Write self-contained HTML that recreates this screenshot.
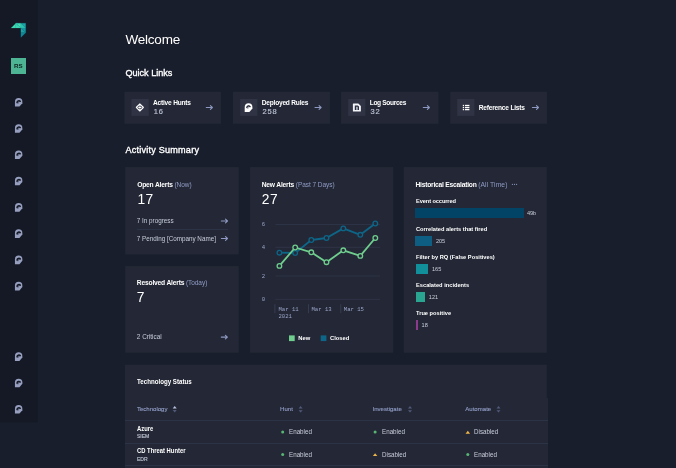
<!DOCTYPE html>
<html>
<head>
<meta charset="utf-8">
<title>Welcome</title>
<style>
*{box-sizing:border-box;margin:0;padding:0}
html,body{width:676px;height:468px;overflow:hidden;background:#191e2c}
body{font-family:"Liberation Sans",sans-serif;color:#fff;position:relative;-webkit-font-smoothing:antialiased}
#root{position:absolute;left:0;top:0;width:676px;height:468px;will-change:transform}
.a{position:absolute;white-space:nowrap;line-height:1}
.side{left:0;top:0;width:37.5px;height:422.5px;background:#151926}
.h1{font-size:13.5px;left:125.4px;top:32.5px;color:#fff;letter-spacing:-0.2px}
.h2{font-size:9.1px;color:#fff;left:125.4px;-webkit-text-stroke:0.35px #fff}
.b{font-weight:bold}
.ct{font-size:6.7px;color:#fff;letter-spacing:-0.19px}
.ct .mut{font-weight:normal;letter-spacing:-0.05px;font-size:6.5px}
.mut{color:#8f9bc4}
.sec{color:#c9cedb}
.qt{font-size:6.6px;font-weight:bold;color:#fff;letter-spacing:-0.21px}
.qn{font-size:7.5px;color:#b9bed0;letter-spacing:0.85px;-webkit-text-stroke:0.2px #b9bed0}
.big{font-size:13.8px;color:#fff;letter-spacing:0.5px}
.line{background:#2d3347;height:1px}
.mono{font-family:"Liberation Mono",monospace;font-size:5.6px;color:#9aa4c8}
.e{left:11.9px;font-size:6.1px;color:#fff;transform:scaleX(.934);transform-origin:0 50%}
.ev{font-size:5.6px;color:#c9cedb}
.th{top:406.3px;font-size:6.05px;color:#919dc6;-webkit-text-stroke:0.12px #919dc6}
.tn{left:136.9px;font-size:6.5px;color:#fff;transform:scaleX(.9);transform-origin:0 50%}
.ts{left:136.9px;font-size:5.1px;color:#bdc2d2;-webkit-text-stroke:0.15px #bdc2d2}
.tv{font-size:6.9px;color:#c9cedb;transform:scaleX(.905);transform-origin:0 50%}
svg{position:absolute;overflow:visible}
</style>
</head>
<body>
<div id="root">
<!-- sidebar -->
<svg style="left:0;top:0" width="40" height="430" viewBox="0 0 40 430"><rect x="0" y="0" width="37.6" height="422.4" fill="#151926"/></svg>
<svg style="left:0;top:0" width="38" height="60" viewBox="0 0 38 60">
  <polygon points="11.1,28.1 15.9,23.2 15.9,28.1" fill="#3ddab3" stroke="#3ddab3" stroke-width="0.15"/>
  <polygon points="15.9,23.2 20.9,28.1 15.9,28.1" fill="#3bd6b3" stroke="#3bd6b3" stroke-width="0.15"/>
  <polygon points="15.9,23.2 20.9,23.2 20.9,28.1" fill="#43dcb6" stroke="#43dcb6" stroke-width="0.15"/>
  <polygon points="15.9,23.2 18.4,23.2 17.2,25.7" fill="#27bcae" stroke="#27bcae" stroke-width="0.15"/>
  <polygon points="20.9,23.2 25.7,23.2 25.7,28.1" fill="#1aa3a9" stroke="#1aa3a9" stroke-width="0.15"/>
  <polygon points="20.9,23.2 25.7,28.1 20.9,28.1" fill="#29c0b0" stroke="#29c0b0" stroke-width="0.15"/>
  <polygon points="20.9,28.1 25.7,28.1 25.7,32.8" fill="#1496a3" stroke="#1496a3" stroke-width="0.15"/>
  <polygon points="20.9,28.1 25.7,32.8 20.9,32.8" fill="#1ba4a8" stroke="#1ba4a8" stroke-width="0.15"/>
  <polygon points="20.9,32.8 25.7,32.8 20.9,37.5" fill="#0f8799" stroke="#0f8799" stroke-width="0.15"/>
</svg>
<div class="a" style="left:10.7px;top:57.7px;width:15.2px;height:15.9px;background:#4db594"></div>
<div class="a b" style="left:10.7px;top:62.9px;width:15.2px;text-align:center;font-size:6.2px;color:#10241f;letter-spacing:0px">RS</div>

<svg style="left:0;top:0" width="676" height="468" viewBox="0 0 676 468">
<g fill="#242836">
<rect x="124.4" y="91.8" width="96.50" height="32.00"/>
<rect x="232.9" y="91.8" width="97.00" height="32.00"/>
<rect x="341.1" y="91.8" width="97.30" height="32.00"/>
<rect x="450.2" y="91.8" width="96.70" height="32.00"/>
<rect x="125.3" y="167.1" width="113.40" height="87.30"/>
<rect x="125.3" y="266.1" width="113.40" height="86.60"/>
<rect x="250.1" y="167.1" width="143.10" height="185.60"/>
<rect x="403.8" y="167.1" width="143.00" height="185.60"/>
<rect x="125" y="364.7" width="421.70" height="105.30"/>
<rect x="125" y="398" width="423.10" height="72.00"/>
</g>
<g fill="#2f3344">
<rect x="131.5" y="99" width="17.2" height="16.9"/>
<rect x="240.2" y="99" width="17.2" height="16.9"/>
<rect x="348.2" y="99" width="17.2" height="16.9"/>
<rect x="457.2" y="99" width="17.2" height="16.9"/>
</g>
</svg>
<!-- headings -->
<div class="a h1">Welcome</div>
<div class="a h2" style="top:69.4px">Quick Links</div>
<div class="a h2" style="top:145.7px;letter-spacing:0.22px">Activity Summary</div>

<!-- quick links -->
<div class="a card" style="left:124.4px;top:92.1px;width:96.6px;height:31.8px">
  <div class="a qt" style="left:28.6px;top:8.4px">Active Hunts</div>
  <div class="a qn" style="left:29.3px;top:16.2px">16</div>
</div>
<div class="a card" style="left:233.1px;top:92.1px;width:96.6px;height:31.8px">
  <div class="a qt" style="left:28.6px;top:8.4px">Deployed Rules</div>
  <div class="a qn" style="left:29.3px;top:16.2px">258</div>
</div>
<div class="a card" style="left:341.1px;top:92.1px;width:97.3px;height:31.8px">
  <div class="a qt" style="left:28.6px;top:8.4px;letter-spacing:-0.33px">Log Sources</div>
  <div class="a qn" style="left:29.3px;top:16.2px">32</div>
</div>
<div class="a card" style="left:450.2px;top:92.1px;width:96.7px;height:31.8px">
  <div class="a qt" style="left:28.6px;top:12.9px">Reference Lists</div>
</div>

<!-- activity cards -->
<div class="a card" style="left:125.3px;top:167.1px;width:113.5px;height:87.3px">
  <div class="a b ct" style="left:11.9px;top:14.6px">Open Alerts <span class="mut">(Now)</span></div>
  <div class="a big" style="left:12.1px;top:26px">17</div>
  <div class="a sec" style="left:11.5px;top:50.8px;font-size:6.3px">7 In progress</div>
  <div class="a line" style="left:11.6px;top:62px;width:90.8px"></div>
  <div class="a sec" style="left:11.5px;top:69.2px;font-size:6.3px">7 Pending [Company Name]</div>
</div>
<div class="a card" style="left:125.3px;top:266.1px;width:113.5px;height:86.1px">
  <div class="a b ct" style="left:11.5px;top:13.6px">Resolved Alerts <span class="mut">(Today)</span></div>
  <div class="a big" style="left:11.5px;top:24.6px">7</div>
  <div class="a sec" style="left:11.5px;top:67.8px;font-size:6.4px">2 Critical</div>
</div>

<!-- chart card -->
<div class="a card" style="left:249.9px;top:167.1px;width:143.3px;height:185.4px">
  <div class="a b ct" style="left:11.8px;top:14.6px">New Alerts <span class="mut">(Past 7 Days)</span></div>
  <div class="a big" style="left:11.9px;top:26px">27</div>
</div>
<div class="a mono" style="left:261.8px;top:221.6px">6</div>
<div class="a mono" style="left:261.8px;top:245.4px">4</div>
<div class="a mono" style="left:261.8px;top:274px">2</div>
<div class="a mono" style="left:261.8px;top:296.6px">0</div>
<div class="a mono" style="left:278.5px;top:306.8px">Mar 11</div>
<div class="a mono" style="left:278.5px;top:314.4px">2021</div>
<div class="a mono" style="left:311.5px;top:306.8px">Mar 13</div>
<div class="a mono" style="left:343.8px;top:306.8px">Mar 15</div>
<svg style="left:0;top:0" width="676" height="468" viewBox="0 0 676 468">
  <g stroke="#30364a" stroke-width="0.8">
    <line x1="275.5" y1="224.5" x2="380" y2="224.5"/>
    <line x1="275.5" y1="247.3" x2="380" y2="247.3"/>
    <line x1="275.5" y1="276" x2="380" y2="276"/>
    <line x1="275.5" y1="299.4" x2="380" y2="299.4"/>
  </g>
  <g stroke="#3d445c" stroke-width="0.7">
    <line x1="274.9" y1="304.2" x2="274.9" y2="313.2"/>
    <line x1="308.5" y1="304.2" x2="308.5" y2="313.2"/>
    <line x1="340.8" y1="304.2" x2="340.8" y2="313.2"/>
  </g>
  <polyline fill="none" stroke="#0d6587" stroke-width="1.8" stroke-linejoin="round" points="279.4,252.7 295.2,253 311.3,240 326.5,238 343.3,228.4 360.3,234.8 375.3,223.5"/>
  <g fill="#242837" stroke="#0d6587" stroke-width="1.3">
    <circle cx="279.4" cy="252.7" r="2.3"/><circle cx="295.2" cy="253" r="2.3"/><circle cx="311.3" cy="240" r="2.3"/><circle cx="326.5" cy="238" r="2.3"/><circle cx="343.3" cy="228.4" r="2.3"/><circle cx="360.3" cy="234.8" r="2.3"/><circle cx="375.3" cy="223.5" r="2.3"/>
  </g>
  <polyline fill="none" stroke="#6fce8e" stroke-width="1.8" stroke-linejoin="round" points="279.4,265.9 295.2,247.5 311.3,252.3 326.5,262.2 343.3,250.3 360.3,255.9 375.3,238"/>
  <g fill="#242837" stroke="#6fce8e" stroke-width="1.3">
    <circle cx="279.4" cy="265.9" r="2.3"/><circle cx="295.2" cy="247.5" r="2.3"/><circle cx="311.3" cy="252.3" r="2.3"/><circle cx="326.5" cy="262.2" r="2.3"/><circle cx="343.3" cy="250.3" r="2.3"/><circle cx="360.3" cy="255.9" r="2.3"/><circle cx="375.3" cy="238" r="2.3"/>
  </g>
  <rect x="289" y="335.4" width="5.7" height="5.7" fill="#6fce8e"/>
  <rect x="320.7" y="335.4" width="5.7" height="5.7" fill="#0d6587"/>
</svg>
<div class="a b" style="left:298.3px;top:336.2px;font-size:5.8px">New</div>
<div class="a b" style="left:330px;top:336.2px;font-size:5.8px">Closed</div>

<!-- escalation card -->
<div class="a card" style="left:403.8px;top:167.1px;width:143.1px;height:185.4px">
  <div class="a b ct" style="left:11.6px;top:14.6px;letter-spacing:-0.22px">Historical Escalation <span class="mut" style="letter-spacing:0.08px;font-size:6.75px">(All Time)</span></div>
  <div class="a b e" style="top:31.4px;letter-spacing:-0.12px">Event occurred</div>
  <div class="a" style="left:11.3px;top:41.3px;width:108.5px;height:9.7px;background:#024466"></div>
  <div class="a ev" style="left:123.1px;top:43.6px">49b</div>
  <div class="a b e" style="top:58.9px">Correlated alerts that fired</div>
  <div class="a" style="left:11.3px;top:69px;width:17.1px;height:9.8px;background:#0d5e82"></div>
  <div class="a ev" style="left:32.1px;top:72.4px">205</div>
  <div class="a b e" style="top:86.7px">Filter by RQ (False Positives)</div>
  <div class="a" style="left:11.75px;top:97.1px;width:12.2px;height:9.6px;background:#11909b"></div>
  <div class="a ev" style="left:28.2px;top:100.2px">165</div>
  <div class="a b e" style="top:114.7px">Escalated incidents</div>
  <div class="a" style="left:11.75px;top:125.1px;width:9.5px;height:9.6px;background:#2aa592"></div>
  <div class="a ev" style="left:25px;top:128.1px">121</div>
  <div class="a b e" style="top:143px">True positive</div>
  <div class="a" style="left:11.75px;top:153.1px;width:2.2px;height:9.6px;background:#8d3a8e"></div>
  <div class="a ev" style="left:17.8px;top:156.4px">18</div>
</div>

<!-- table -->
<div class="a b" style="left:136.9px;top:379.4px;font-size:6.6px;transform:scaleX(.935);transform-origin:0 50%">Technology Status</div>
<div class="a th" style="left:136.9px">Technology</div>
<div class="a th" style="left:280.1px">Hunt</div>
<div class="a th" style="left:372.5px">Investigate</div>
<div class="a th" style="left:465.3px">Automate</div>
<div class="a line" style="left:125px;top:419.6px;width:423.2px"></div>
<div class="a line" style="left:125px;top:442.5px;width:423.2px"></div>
<div class="a line" style="left:125px;top:465.2px;width:423.2px"></div>
<div class="a b tn" style="top:425.6px">Azure</div>
<div class="a ts" style="top:434.1px">SIEM</div>
<div class="a b tn" style="top:448.4px">CD Threat Hunter</div>
<div class="a ts" style="top:456.8px">EDR</div>
<div class="a tv" style="left:289.2px;top:428.6px">Enabled</div>
<div class="a tv" style="left:381.7px;top:428.6px">Enabled</div>
<div class="a tv" style="left:474.4px;top:428.6px">Disabled</div>
<div class="a tv" style="left:289.2px;top:452px">Enabled</div>
<div class="a tv" style="left:381.7px;top:452px">Disabled</div>
<div class="a tv" style="left:474.4px;top:452px">Enabled</div>

<!-- icons -->
<svg style="left:0;top:0" width="676" height="468" viewBox="0 0 676 468">
<defs>
<g id="arr"><path d="M0.4,0 H6.4 M4.5,-1.8 L6.5,0 L4.5,1.8" fill="none" stroke="#8e99c2" stroke-width="1.1" stroke-linecap="round" stroke-linejoin="round"/></g>
<g id="ph"><path d="M0,8.8 V3.85 A3.85,3.85 0 0 1 7.7,3.85 V5.3 L4.7,8.8 Z"/><path d="M2,5.6 V4.2 A1.9,1.9 0 0 1 5.5,3.5 L4,4.6 L3.6,5.8 Z" fill="#1d2130" opacity="0.35"/><path d="M2.1,4.2 A1.85,1.85 0 0 1 5.4,3.45" fill="none" stroke="#1d2130" stroke-width="1.25" stroke-linecap="round"/></g>
<g id="ph2"><path d="M0,8.6 V3.7 A3.7,3.7 0 0 1 7.4,3.7 V5.2 L4.5,8.6 Z"/><path d="M1.9,5.6 V4.2 A1.9,1.9 0 0 1 5.4,3.4 L4,4.6 L3.5,5.8 Z" fill="#151926" opacity="0.4"/><path d="M2.1,4.5 A1.9,1.9 0 0 1 5.3,3.3" fill="none" stroke="#151926" stroke-width="1.5" stroke-linecap="round"/></g>
<g id="sort"><path d="M0,-0.9 L2,-3.3 L4,-0.9 Z"/><path d="M0,0.9 L2,3.3 L4,0.9 Z"/></g>
</defs>
<use href="#arr" x="205.9" y="107.5"/>
<use href="#arr" x="314.6" y="107.5"/>
<use href="#arr" x="422.9" y="107.5"/>
<use href="#arr" x="532" y="107.5"/>
<use href="#arr" x="221" y="221"/>
<use href="#arr" x="221" y="238.5"/>
<use href="#arr" x="220.9" y="337.1"/>
<use href="#ph2" x="14.95" y="97.95" fill="#979fbf"/>
<use href="#ph2" x="14.95" y="124.22" fill="#979fbf"/>
<use href="#ph2" x="14.95" y="150.49" fill="#979fbf"/>
<use href="#ph2" x="14.95" y="176.76" fill="#979fbf"/>
<use href="#ph2" x="14.95" y="203.03" fill="#979fbf"/>
<use href="#ph2" x="14.95" y="229.30" fill="#979fbf"/>
<use href="#ph2" x="14.95" y="255.57" fill="#979fbf"/>
<use href="#ph2" x="14.95" y="281.84" fill="#979fbf"/>
<use href="#ph2" x="14.95" y="352.30" fill="#979fbf"/>
<use href="#ph2" x="14.95" y="378.65" fill="#979fbf"/>
<use href="#ph2" x="14.95" y="405.00" fill="#979fbf"/>
<g transform="translate(139.85,107.45)"><path d="M0,-3.2 L3.2,0 L0,3.2 L-3.2,0 Z" fill="#fff" stroke="#fff" stroke-width="1.7" stroke-linejoin="round"/><ellipse cx="0" cy="0" rx="1.95" ry="1.4" fill="none" stroke="#2f3344" stroke-width="0.9"/></g>
<use href="#ph" x="244.7" y="103.2" fill="#fff"/>
<g transform="translate(352.9,103.4)"><path d="M0.5,0 H5.4 L8,2.6 V7.7 Q8,8.2 7.5,8.2 H0.5 Q0,8.2 0,7.7 V0.5 Q0,0 0.5,0 Z" fill="#f2f3f6"/><path d="M1.9,2 H4.9 L6.1,3.2 V6.5 H1.9 Z" fill="#2b2f3f"/><rect x="3.1" y="3.4" width="1.8" height="3.1" fill="#a9adba"/></g>
<g fill="#fff"><rect x="462.8" y="104.85" width="1.3" height="1.3"/><rect x="465" y="104.85" width="4.4" height="1.3"/><rect x="462.8" y="106.90" width="1.3" height="1.3"/><rect x="465" y="106.90" width="4.4" height="1.3"/><rect x="462.8" y="108.95" width="1.3" height="1.3"/><rect x="465" y="108.95" width="4.4" height="1.3"/></g>
<g transform="translate(172.7,409.3)"><path d="M0,-0.8 L2,-3.2 L4,-0.8 Z" fill="#b9c1de"/><path d="M0,0.8 L2,3.2 L4,0.8 Z" fill="#515a7a"/></g>
<use href="#sort" x="298.6" y="409.3" fill="#515a7a"/>
<use href="#sort" x="408" y="409.3" fill="#515a7a"/>
<use href="#sort" x="496.5" y="409.3" fill="#515a7a"/>
<g fill="#58b674"><circle cx="282.7" cy="432.1" r="1.5"/><circle cx="375.1" cy="432.1" r="1.5"/><circle cx="282.7" cy="454.5" r="1.5"/><circle cx="467.8" cy="454.5" r="1.5"/></g>
<g fill="#efb548"><path d="M465.55,433.65 L467.8,430.75 L470.05,433.65 Z"/><path d="M372.85,456.05 L375.1,453.15000000000003 L377.35,456.05 Z"/></g>
<g fill="#8f9bc4"><circle cx="512.4" cy="184.3" r="0.6"/><circle cx="514.5" cy="184.3" r="0.6"/><circle cx="516.6" cy="184.3" r="0.6"/></g>
</svg>
</div>
</body>
</html>
